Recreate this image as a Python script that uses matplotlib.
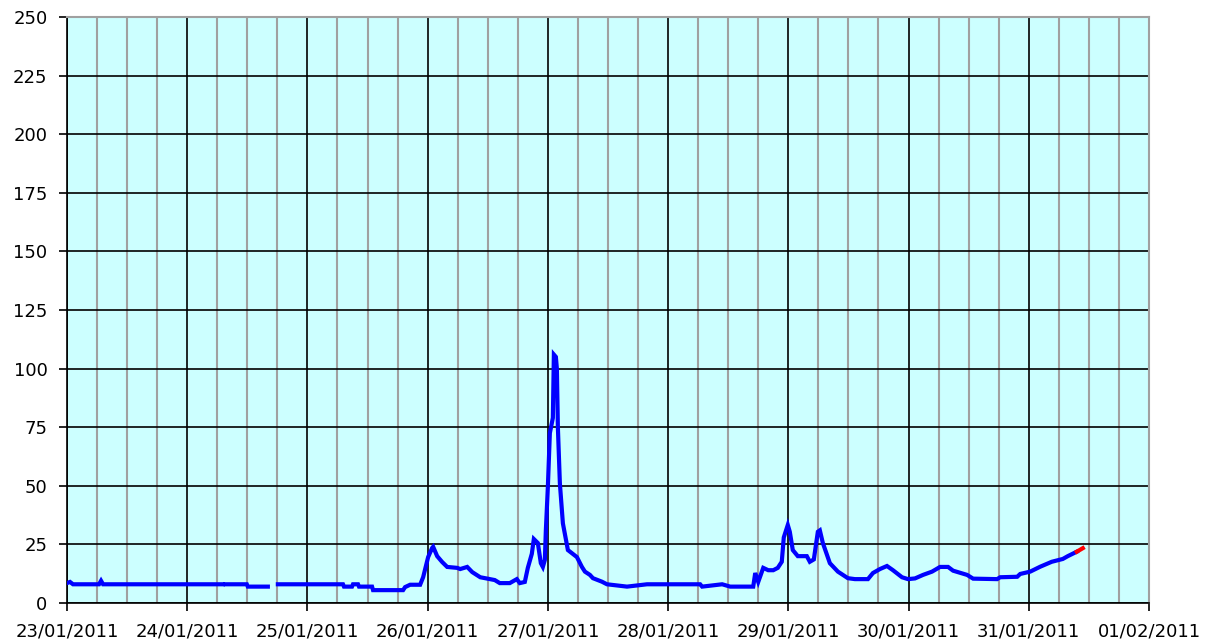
import numpy as np
import pandas as pd
import matplotlib
matplotlib.use('Agg')
import matplotlib.pyplot as plt
import matplotlib.dates as mdates

# Hours since 23/01/2011 00:00 and level (nan = gap in record)
hours = [0, 0.6, 1.2, 6.4, 6.8, 7.2, 31.1, 31.4, 31.7, 35.9, 36.1, 40.1, 41.1,
         42.1, 55.1, 55.3, 56.9, 57.1, 58.1, 58.3, 60.9, 61.1, 67.1, 67.5, 68.5,
         70.5, 71.1, 72.1, 72.9, 73.1, 73.9, 74.9, 75.9, 77.9, 78.5, 79.9, 80.9,
         82.5, 85.4, 86.4, 88.4, 89.8, 90.4, 91.4, 92.0, 92.8, 93.2, 94.0, 94.6,
         95.0, 95.4, 95.6, 96.0, 96.4, 97.0, 97.2, 97.6, 97.8, 98.0, 98.4, 99.0,
         100.0, 101.8, 102.8, 103.4, 104.4, 105.0, 106.8, 107.8, 111.8, 115.8,
         126.4, 126.8, 130.8, 132.4, 137.0, 137.4, 138.0, 139.0, 140.0, 141.0,
         141.9, 142.7, 143.1, 143.9, 144.3, 144.9, 145.9, 147.7, 148.3, 149.1,
         149.9, 150.3, 150.9, 152.3, 153.9, 155.9, 157.3, 159.9, 160.9, 162.3,
         163.7, 164.9, 166.7, 167.9, 169.3, 170.9, 172.7, 174.3, 175.9, 176.9,
         179.7, 180.9, 185.7, 186.3, 189.7, 190.3, 192.3, 194.3, 196.6, 198.8,
         199.8, 201.6]
level = [8.5, 9, 8, 8, 9.5, 8, 8, np.nan, 8, 8, 7, 7, np.nan,
         8, 8, 7, 7, 8, 8, 7, 7, 5.5, 5.5, 6.8, 7.8,
         7.8, 11, 19.6, 23.5, 24, 20, 17.5, 15.4, 15, 14.5, 15.4, 13.2,
         11, 9.8, 8.5, 8.5, 10.2, 8.5, 9, 15, 21, 27.3, 25.6, 17,
         15.4, 18.4, 31, 49.5, 72.5, 79, 106, 105, 100, 75, 51, 34,
         22.6, 19.6, 15.4, 13.4, 12, 10.6, 9.1, 8, 7, 8,
         8, 7, 8, 7, 7, 12.8, 9, 15, 14, 14,
         15, 17.6, 28, 33.3, 30.4, 22.6, 20, 20, 17.6, 18.6,
         30.4, 31, 25.6, 17, 13.4, 10.6, 10.2, 10.2, 12.8, 14.5,
         15.8, 14, 11, 10.2, 10.5, 12, 13.4, 15.4, 15.4, 13.8,
         12, 10.4, 10.2, 11, 11.2, 12.4, 13.4, 15.5, 17.6, 18.8,
         20, 21.9]
# latest (provisional) readings, drawn in red
hours_last = [201.6, 202.8]
level_last = [21.9, 23.4]

start = pd.Timestamp('2011-01-23')
t = start + pd.to_timedelta(hours, unit='h')
t_last = start + pd.to_timedelta(hours_last, unit='h')

fig = plt.figure(figsize=(12.18, 6.42), dpi=100)
ax = fig.add_axes([0.055, 0.0607, 0.8883, 0.9128])
ax.set_facecolor('#ccffff')

ax.plot(t, level, color='#0000ff', lw=3, zorder=5, solid_joinstyle='miter')
ax.plot(t_last, level_last, color='#ff0000', lw=3, zorder=6)

ax.set_xlim(start, pd.Timestamp('2011-02-01'))
ax.set_ylim(0, 250)
ax.set_yticks(np.arange(0, 251, 25))

ax.xaxis.set_major_locator(mdates.DayLocator())
ax.xaxis.set_major_formatter(mdates.DateFormatter('%d/%m/%Y'))
ax.xaxis.set_minor_locator(mdates.HourLocator(byhour=[6, 12, 18]))

ax.grid(which='minor', axis='x', color='#a0a0a0', lw=1.5, zorder=1)
ax.grid(which='major', axis='x', color='black', lw=1.2, zorder=2)
ax.grid(which='major', axis='y', color='black', lw=1.2, zorder=2)
ax.set_axisbelow(True)

ax.tick_params(which='major', direction='out', length=6, width=1.2,
               labelsize=13, pad=8, colors='black')
ax.tick_params(which='minor', length=0)

for s in ['left', 'bottom']:
    ax.spines[s].set_color('black')
    ax.spines[s].set_linewidth(1.2)
for s in ['top', 'right']:
    ax.spines[s].set_color('#a0a0a0')
    ax.spines[s].set_linewidth(1.5)

fig.savefig('out.png', dpi=100)
